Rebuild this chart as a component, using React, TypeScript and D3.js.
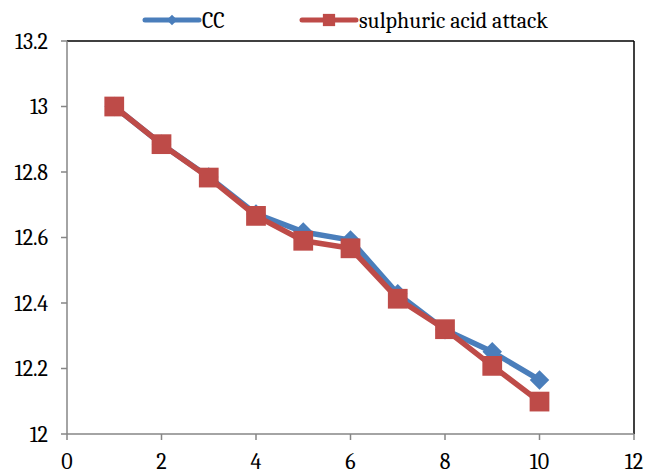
import React from 'react';
import * as d3 from 'd3';

const xValues = [1, 2, 3, 4, 5, 6, 7, 8, 9, 10];
const ccValues = [13.0, 12.885, 12.785, 12.672, 12.617, 12.592, 12.428, 12.318, 12.251, 12.165];
const acidValues = [13.0, 12.885, 12.783, 12.666, 12.59, 12.567, 12.413, 12.32, 12.208, 12.099];
const xTicks = [0, 2, 4, 6, 8, 10, 12];
const yTicks = [12, 12.2, 12.4, 12.6, 12.8, 13, 13.2];

const W = 646;
const H = 474;
const margin = { top: 41, right: 12, bottom: 40, left: 67 };
const font = "Cambria, 'Liberation Serif', serif";

const App = () => {
  const x = d3.scaleLinear().domain([0, 12]).range([margin.left, W - margin.right]);
  const y = d3.scaleLinear().domain([12, 13.2]).range([H - margin.bottom, margin.top]);

  const line = d3.line<number>()
    .x((d, i) => x(xValues[i]))
    .y(d => y(d));

  const series = [
    { name: 'CC', values: ccValues, color: '#4A7EBB', legendX: 145 },
    { name: 'sulphuric acid attack', values: acidValues, color: '#BE4B48', legendX: 302 },
  ];

  const diamond = d3.symbol().type(d3.symbolSquare).size(190)();
  const square = d3.symbol().type(d3.symbolSquare).size(390)();

  return (
    <svg width={W} height={H} style={{ position: 'absolute', left: 0, top: 0, background: '#fff' }}>
      {/* plot frame */}
      <line x1={x(0)} x2={x(12)} y1={y(13.2)} y2={y(13.2)} stroke="#000" strokeWidth={1.5} />
      <line x1={x(12)} x2={x(12)} y1={y(13.2)} y2={y(12)} stroke="#000" strokeWidth={1.5} />
      <line x1={x(0)} x2={x(0)} y1={y(13.2)} y2={y(12)} stroke="#868686" strokeWidth={1.5} />
      <line x1={x(0)} x2={x(12)} y1={y(12)} y2={y(12)} stroke="#868686" strokeWidth={1.5} />

      {yTicks.map(t => (
        <g key={'y' + t}>
          <line x1={x(0) - 6} x2={x(0)} y1={y(t)} y2={y(t)} stroke="#868686" strokeWidth={1.5} />
          <text x={x(0) - 19} y={y(t)} dy="0.35em" textAnchor="end" fontFamily={font} fontSize={22}>
            {d3.format('')(t)}
          </text>
        </g>
      ))}
      {xTicks.map(t => (
        <g key={'x' + t}>
          <line x1={x(t)} x2={x(t)} y1={y(12)} y2={y(12) + 6} stroke="#868686" strokeWidth={1.5} />
          <text x={x(t)} y={y(12) + 35} textAnchor="middle" fontFamily={font} fontSize={22}>
            {t}
          </text>
        </g>
      ))}

      {series.map((s, si) => (
        <g key={s.name}>
          <path d={line(s.values) || ''} fill="none" stroke={s.color} strokeWidth={5.5} strokeLinejoin="round" />
          {s.values.map((v, i) => (
            <path
              key={i}
              d={si === 0 ? diamond : square}
              transform={`translate(${x(xValues[i])},${y(v)})${si === 0 ? ' rotate(45)' : ''}`}
              fill={s.color}
            />
          ))}
        </g>
      ))}

      {/* legend */}
      {series.map((s, si) => {
        const lx = s.legendX;
        return (
          <g key={'leg' + s.name}>
            <line x1={lx} x2={lx + 54} y1={20} y2={20} stroke={s.color} strokeWidth={5} strokeLinecap="round" />
            <path d={si === 0 ? d3.symbol().type(d3.symbolSquare).size(55)() : d3.symbol().type(d3.symbolSquare).size(150)()}
              transform={`translate(${lx + 27},20)${si === 0 ? ' rotate(45)' : ''}`} fill={s.color} />
            <text x={lx + 57} y={20} dy="0.35em" fontFamily={font} fontSize={22}>{s.name}</text>
          </g>
        );
      })}
    </svg>
  );
};

export default App;
